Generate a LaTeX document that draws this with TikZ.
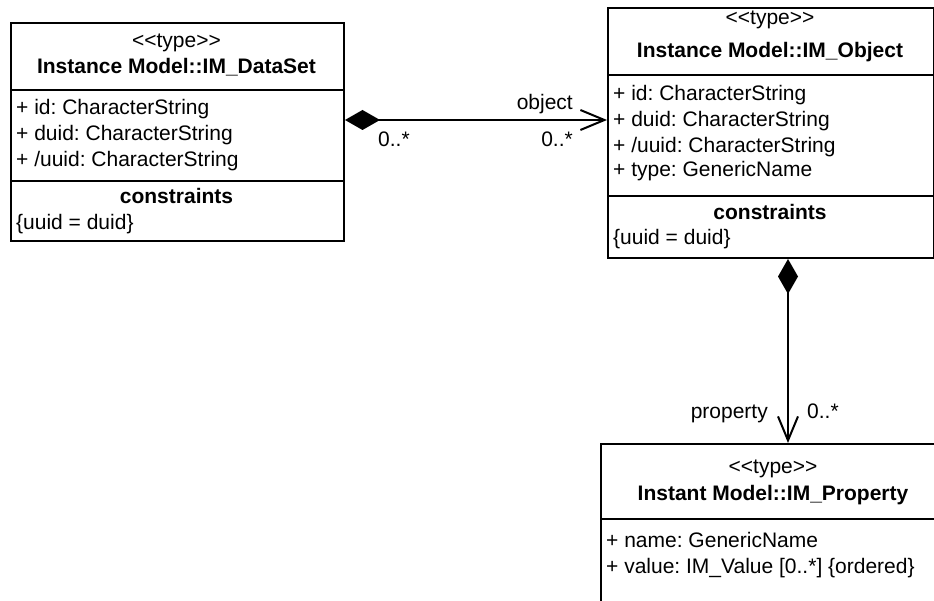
\documentclass[tikz,border=0pt]{standalone}
\usepackage{fontspec}
\setmainfont{Liberation Sans}
\usetikzlibrary{arrows.meta}
\frenchspacing
\newcommand{\stereo}[1]{<{}<#1>{}>}
\tikzset{
  box/.style={draw, line width=2pt, inner sep=0pt, anchor=north west},
  txt/.style={font=\fontsize{21}{25}\selectfont\frenchspacing, inner sep=0pt, anchor=base},
  attr/.style={txt, anchor=base west},
  ttl/.style={txt, font=\fontsize{21}{25}\selectfont\frenchspacing\bfseries},
  sep/.style={line width=2pt},
  assoc/.style={line width=2pt, {Diamond[length=35pt,width=20pt]}-{Straight Barb[length=24pt,width=20pt]}}
}
\begin{document}
\begin{tikzpicture}[x=1pt,y=-1pt]
\clip (0,0) rectangle (934,601);
% boxes
\node[box, minimum width=333pt, minimum height=218pt] (ds) at (10,22) {};
\node[box, minimum width=326pt, minimum height=250pt] (obj) at (607,7) {};
\node[box, minimum width=346pt, minimum height=200pt] (prop) at (600,443) {};
% compartments
\draw[sep] (ds.west |- 0,90) -- (ds.east |- 0,90);
\draw[sep] (ds.west |- 0,181) -- (ds.east |- 0,181);
\draw[sep] (obj.west |- 0,75) -- (obj.east |- 0,75);
\draw[sep] (obj.west |- 0,196) -- (obj.east |- 0,196);
\draw[sep] (prop.west |- 0,519) -- (prop.east |- 0,519);
% DataSet texts
\node[txt] (dsst) at (176.5,48) {\stereo{type}};
\node[ttl] (dsnm) at (176.5,74) {Instance Model::IM\_DataSet};
\node[attr] (dsa1) at (16,115) {+ id: CharacterString};
\node[attr] (dsa2) at (16,141) {+ duid: CharacterString};
\node[attr] (dsa3) at (16,167) {+ /uuid: CharacterString};
\node[ttl] (dsct) at (176.5,204) {constraints};
\node[attr] (dsc1) at (16,230) {\{uuid = duid\}};
% Object texts
\node[txt] (obst) at (770,25) {\stereo{type}};
\node[ttl] (obnm) at (770,58) {Instance Model::IM\_Object};
\node[attr] (oba1) at (613,101) {+ id: CharacterString};
\node[attr] (oba2) at (613,127) {+ duid: CharacterString};
\node[attr] (oba3) at (613,153) {+ /uuid: CharacterString};
\node[attr] (oba4) at (613,177) {+ type: GenericName};
\node[ttl] (obct) at (770,220) {constraints};
\node[attr] (obc1) at (613,245) {\{uuid = duid\}};
% Property texts
\node[txt] (prst) at (773,473) {\stereo{type}};
\node[ttl] (prnm) at (773,500) {Instant Model::IM\_Property};
\node[attr] (pra1) at (606,547) {+ name: GenericName};
\node[attr] (pra2) at (606,573) {+ value: IM\_Value [0..*] \{ordered\}};
% connectors
\coordinate (ya) at (0,120);
\coordinate (xb) at (788,0);
\draw[assoc] (ds.east |- ya) -- (obj.west |- ya);
\draw[assoc] (obj.south -| xb) -- (prop.north -| xb);
% labels
\node[txt, anchor=base east] (lobj) at (573,110) {object};
\node[txt, anchor=base west] (m1) at (378,147) {0..*};
\node[txt, anchor=base east] (m2) at (573,147) {0..*};
\node[txt, anchor=base east] (lprop) at (768,418) {property};
\node[txt, anchor=base west] (m3) at (807,418) {0..*};
\end{tikzpicture}
\end{document}
